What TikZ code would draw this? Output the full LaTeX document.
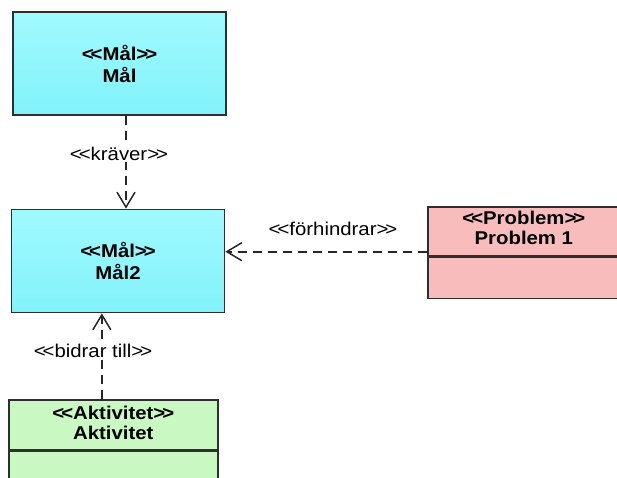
\documentclass[tikz,border=0pt]{standalone}
\usepackage{fontspec}
\setmainfont{Liberation Sans}[Ligatures=TeXOff, FakeStretch=1.1]
\usetikzlibrary{arrows.meta}

\definecolor{boxline}{HTML}{2E2E2E}
\definecolor{goaltop}{HTML}{A0FAFE}
\definecolor{goalbot}{HTML}{82F2FA}
\definecolor{probfill}{HTML}{F8BCBC}
\definecolor{actfill}{HTML}{C9F8C2}
\definecolor{depline}{HTML}{262626}

\newcommand\stereo[1]{<\kern-3pt<#1>\kern-3pt>}

\begin{document}
\begin{tikzpicture}[x=1pt, y=-1pt,
  classfont/.style={font=\bfseries\fontsize{18.5}{22}\selectfont},
  classbox/.style={draw=boxline, line width=1.7pt, rectangle, inner sep=0pt,
    align=center, classfont},
  title/.style={align=center, inner sep=0pt, classfont},
  goal/.style={classbox, top color=goaltop, bottom color=goalbot,
    minimum width=213pt, minimum height=103pt},
  probhead/.style={classbox, fill=probfill, anchor=north west,
    minimum width=192pt, minimum height=49pt},
  acthead/.style={classbox, fill=actfill, anchor=north west,
    minimum width=209pt, minimum height=50pt},
  lbl/.style={fill=white, inner sep=1.5pt, font=\fontsize{18.5}{22}\selectfont},
  dep/.style={draw=depline, line width=1.7pt, dash pattern=on 9pt off 6pt,
    -{Straight Barb[length=15pt, width=18pt, line width=1.5pt]}}
]
\useasboundingbox (0,0) rectangle (617,477);
\clip (0,0) rectangle (617,477);

% goals
\node[goal] (mal)  at (119.5,63.5) {\stereo{Mål}\\Mål};
\node[goal] (mal2) at (118,261)    {\stereo{Mål}\\Mål2};

% problem class with empty attribute compartment
\node[probhead] (probhead) at (427,206) {};
\node[probhead, minimum height=41pt] (probbody) at (probhead.south west) {};
\node[title] (probtitle) at ([yshift=3pt]probhead.center) {\stereo{Problem}\\[-2pt]Problem 1};

% activity class with empty attribute compartment
\node[acthead] (acthead) at (8,399) {};
\node[acthead, minimum height=40pt] (actbody) at (acthead.south west) {};
\node[title] (acttitle) at ([yshift=1.5pt]acthead.center) {\stereo{Aktivitet}\\[-2pt]Aktivitet};

% dependencies
\draw[dep] ([xshift=6.5pt]mal.south) -- ([xshift=6.5pt]mal.south |- mal2.north);
\draw[dep] ([yshift=5pt]probhead.south west) -- ([yshift=5pt]probhead.south west -| mal2.east);
\draw[dep] ([xshift=-11.5pt]acthead.north) -- ([xshift=-11.5pt]acthead.north |- mal2.south);

% dependency labels
\node[lbl] (lkraver) at (119,154) {\stereo{kräver}};
\node[lbl, fill=none] (lforh) at (333,229) {\stereo{förhindrar}};
\node[lbl] (lbidrar) at (93,351) {\stereo{bidrar till}};
\end{tikzpicture}
\end{document}
